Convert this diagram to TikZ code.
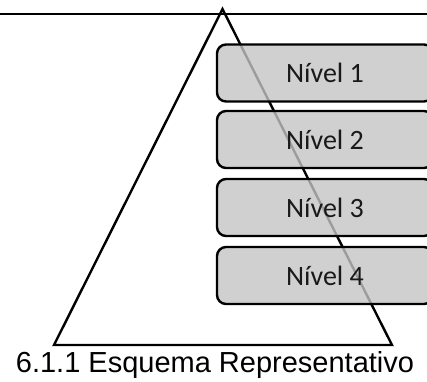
\documentclass[tikz,border=0pt]{standalone}
\usepackage{fontspec}
\setmainfont{Liberation Sans}
\newfontfamily\carlito{Carlito}
\definecolor{caixa}{gray}{0.77}
\tikzset{
  nivel/.style={draw=black, line width=2.4pt, fill=caixa, fill opacity=0.8, text opacity=1,
    rounded corners=9pt, minimum width=216pt, minimum height=57pt, inner sep=0pt,
    font=\carlito\fontsize{28}{30}\selectfont, text=black!90}
}
\begin{document}
\begin{tikzpicture}[x=1pt,y=-1pt,line width=2.4pt]
            \useasboundingbox (0,0) rectangle (427,381);
            \clip (0,0) rectangle (427,381);
            \coordinate (topo) at (222.5,9);
            \coordinate (esq) at (54,345);
            \coordinate (dir) at (392,345);
            \draw (0,13.8) -- (427,13.8);
            \draw (esq) -- (topo) -- (dir) -- cycle;
            \node[nivel] (n1) at (325,73) {Nível 1};
            \node[nivel] (n2) at (325,139.5) {Nível 2};
            \node[nivel] (n3) at (325,207.5) {Nível 3};
            \node[nivel] (n4) at (325,275.5) {Nível 4};
            \node[anchor=base, inner sep=0pt, font=\fontsize{29}{31}\selectfont] (legenda) at (215,372) {6.1.1 Esquema Representativo};
        \end{tikzpicture}
\end{document}
